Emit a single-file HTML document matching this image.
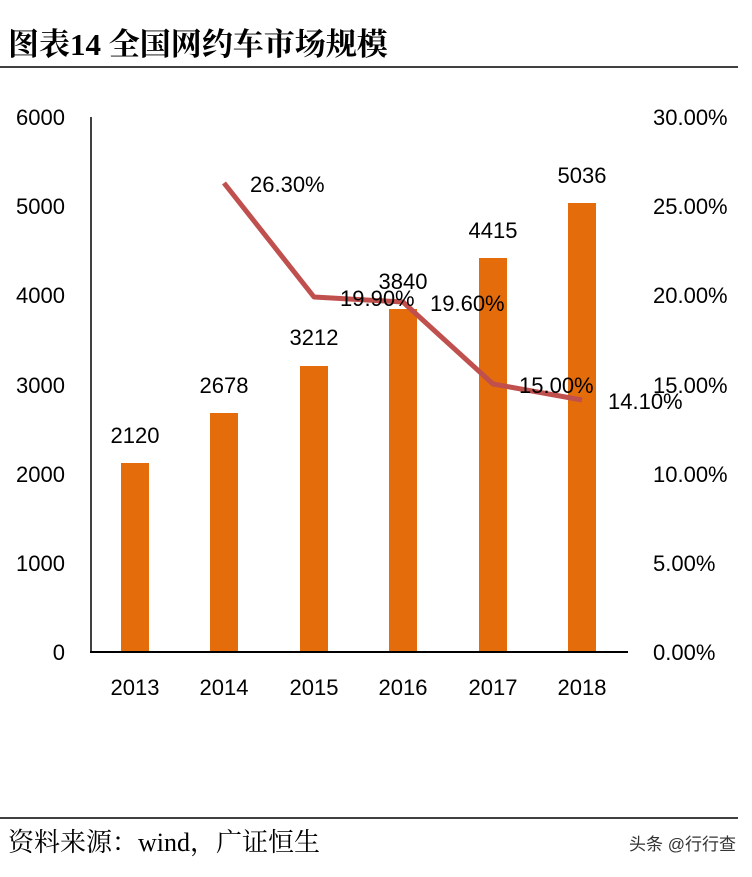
<!DOCTYPE html>
<html><head><meta charset="utf-8"><style>
body{margin:0;background:#fff;width:752px;height:872px;overflow:hidden}
svg text{font-family:"Liberation Sans","Noto Sans CJK SC",sans-serif}
</style></head><body>
<svg width="752" height="872" xmlns="http://www.w3.org/2000/svg">
<text x="8" y="55" font-size="31" font-weight="bold" style="font-family:'Liberation Serif','Noto Serif CJK SC',serif">图表14 全国网约车市场规模</text>
<line x1="0" y1="67" x2="738" y2="67" stroke="#000" stroke-width="1.5"/>
<g font-size="22" fill="#000">
<text x="65" y="125" text-anchor="end">6000</text>
<text x="65" y="214" text-anchor="end">5000</text>
<text x="65" y="303" text-anchor="end">4000</text>
<text x="65" y="393" text-anchor="end">3000</text>
<text x="65" y="482" text-anchor="end">2000</text>
<text x="65" y="571" text-anchor="end">1000</text>
<text x="65" y="660" text-anchor="end">0</text>
<text x="653" y="125">30.00%</text>
<text x="653" y="214">25.00%</text>
<text x="653" y="303">20.00%</text>
<text x="653" y="393">15.00%</text>
<text x="653" y="482">10.00%</text>
<text x="653" y="571">5.00%</text>
<text x="653" y="660">0.00%</text>
</g>
<g fill="#e46c0a">
<rect x="121" y="463" width="28" height="189"/>
<rect x="210" y="413" width="28" height="239"/>
<rect x="300" y="366" width="28" height="286"/>
<rect x="389" y="309" width="28" height="343"/>
<rect x="479" y="258" width="28" height="394"/>
<rect x="568" y="203" width="28" height="449"/>
</g>
<line x1="91" y1="117" x2="91" y2="653" stroke="#000" stroke-width="1.5"/>
<line x1="90" y1="652" x2="628" y2="652" stroke="#000" stroke-width="2"/>
<g font-size="22" text-anchor="middle">
<text x="135" y="695">2013</text><text x="224" y="695">2014</text><text x="314" y="695">2015</text>
<text x="403" y="695">2016</text><text x="493" y="695">2017</text><text x="582" y="695">2018</text>
<text x="135" y="443">2120</text><text x="224" y="393">2678</text><text x="314" y="345">3212</text>
<text x="403" y="289">3840</text><text x="493" y="238">4415</text><text x="582" y="183">5036</text>
</g>
<polyline points="224,183 314,297 403,302 493,384 582,400" fill="none" stroke="#c0504d" stroke-width="5" stroke-linejoin="round"/>
<g font-size="22">
<text x="250" y="192">26.30%</text>
<text x="340" y="306">19.90%</text>
<text x="430" y="311">19.60%</text>
<text x="519" y="393">15.00%</text>
<text x="608" y="409">14.10%</text>
</g>
<line x1="0" y1="818" x2="738" y2="818" stroke="#000" stroke-width="1.5"/>
<text x="8" y="851" font-size="26" style="font-family:'Liberation Serif','Noto Serif CJK SC',serif">资料来源：wind，广证恒生</text>
<text x="736" y="850" font-size="17" text-anchor="end" fill="#333">头条 @行行查</text>
</svg>
</body></html>
